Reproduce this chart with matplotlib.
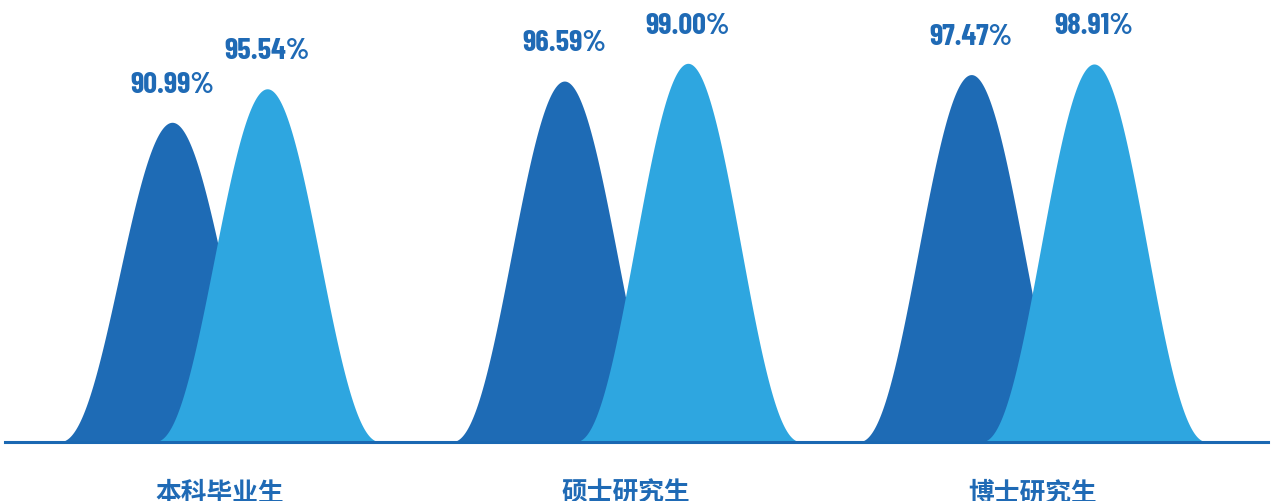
import numpy as np
import matplotlib
matplotlib.use("Agg")
from matplotlib import pyplot as plt

# Data
categories = ["本科毕业生", "硕士研究生", "博士研究生"]
rate_a = [90.99, 96.59, 97.47]   # dark series
rate_b = [95.54, 99.00, 98.91]   # light series

# Layout / style
DARK = "#1e6bb5"
LIGHT = "#2ea6e0"
TEXT = "#1f6ab5"
HALF_WIDTH = 0.278
PAIR_OFFSET = [0.117, 0.152, 0.151]
Y_MIN, Y_MAX = 47.6, 107.6
SHAPE_POWER = 1.1
NUM_FONT = ["Barlow Condensed", "DejaVu Sans"]
CJK_FONT = ["Noto Sans CJK SC", "DejaVu Sans"]


def bell(center, value):
    x = np.linspace(-HALF_WIDTH, HALF_WIDTH, 300)
    f = ((1 + np.cos(np.pi * x / HALF_WIDTH)) / 2) ** SHAPE_POWER
    return center + x, Y_MIN + f * (value - Y_MIN)


def main():
    fig = plt.figure(figsize=(12.71, 5.01), dpi=100)
    ax = fig.add_axes([5 / 1271, 59.3 / 501, 1263 / 1271, 441.7 / 501])
    ax.set_xlim(-0.528, 2.579)
    ax.set_ylim(Y_MIN, Y_MAX)
    ax.axis("off")

    for i, name in enumerate(categories):
        for value, color, sign, z in ((rate_a[i], DARK, -1, 2), (rate_b[i], LIGHT, 1, 3)):
            cx = i + sign * PAIR_OFFSET[i]
            xs, ys = bell(cx, value)
            ax.fill_between(xs, Y_MIN, ys, color=color, lw=0, zorder=z)
            ax.annotate("{:.2f}%".format(value), (cx, value), xytext=(0, 17),
                        textcoords="offset points", ha="center", va="bottom",
                        fontsize=22, fontweight="bold", color=TEXT, family=NUM_FONT)
        ax.annotate(name, (i, Y_MIN), xytext=(0, -37), textcoords="offset points",
                    ha="center", va="center", fontsize=18.5, fontweight="bold",
                    color=TEXT, family=CJK_FONT, annotation_clip=False)

    ax.axhline(Y_MIN, color="#1a68b2", lw=2.2, zorder=5, clip_on=False)

    fig.savefig("out.png", dpi=100)


if __name__ == "__main__":
    main()
